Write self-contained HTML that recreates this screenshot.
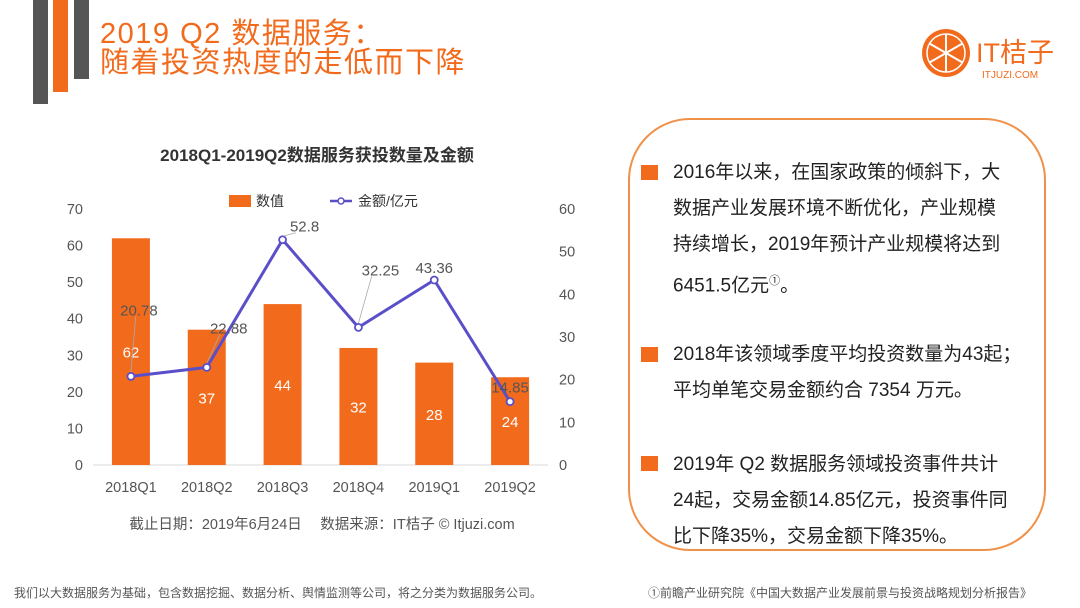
<!DOCTYPE html>
<html><head><meta charset="utf-8"><style>
body{margin:0;width:1080px;height:608px;background:#fff;position:relative;overflow:hidden;font-family:"Liberation Sans","Noto Sans CJK SC",sans-serif;}
.abs{position:absolute;}
.bar{position:absolute;top:0;}
.title{left:100px;top:20px;color:#f26b1d;font-size:29px;line-height:29px;letter-spacing:1.5px;}
.box{left:628px;top:118px;width:418px;height:433px;border:2px solid #f0914a;border-radius:62px;box-sizing:border-box;}
.p{position:absolute;left:673px;font-size:19px;line-height:36px;color:#222;white-space:nowrap;}
.bul{position:absolute;left:641px;width:17px;height:15px;background:#f26b1d;}
.foot{font-size:12px;color:#555;}
</style></head><body>
<div class="abs bar" style="left:33px;width:15px;height:104px;background:#555"></div>
<div class="abs bar" style="left:53px;width:15px;height:92px;background:#f26b1d"></div>
<div class="abs bar" style="left:74px;width:15px;height:79px;background:#555"></div>
<div class="abs title">2019 Q2 数据服务：<br>随着投资热度的走低而下降</div>

<svg class="abs" style="left:918px;top:28px" width="150" height="56">
<circle cx="28" cy="25" r="24" fill="#f26b1d"/>
<circle cx="28" cy="25" r="19" fill="none" stroke="#fff" stroke-width="1.5"/>
<g stroke="#fff" stroke-width="2"><line x1="28" y1="6" x2="28" y2="44"/><line x1="11.5" y1="15.5" x2="44.5" y2="34.5"/><line x1="11.5" y1="34.5" x2="44.5" y2="15.5"/></g>
<text x="58" y="34" font-size="27" fill="#f26b1d" font-family="Liberation Sans,Noto Sans CJK SC,sans-serif">IT桔子</text>
<text x="64" y="50" font-size="10" fill="#f26b1d" font-family="Liberation Sans,sans-serif">ITJUZI.COM</text>
</svg>

<svg id="chart" class="abs" style="left:0;top:0" width="620" height="560"></svg>

<div class="abs box"></div>
<div class="bul" style="top:165px"></div>
<div class="p" style="top:155px">2016年以来，在国家政策的倾斜下，大<br>数据产业发展环境不断优化，产业规模<br>持续增长，2019年预计产业规模将达到<br>6451.5亿元<sup style="font-size:11px">①</sup>。</div>
<div class="bul" style="top:347px"></div>
<div class="p" style="top:337px">2018年该领域季度平均投资数量为43起；<br>平均单笔交易金额约合 7354 万元。</div>
<div class="bul" style="top:456px"></div>
<div class="p" style="top:447px">2019年 Q2 数据服务领域投资事件共计<br>24起，交易金额14.85亿元，投资事件同<br>比下降35%，交易金额下降35%。</div>

<div class="abs foot" style="left:14px;top:584px">我们以大数据服务为基础，包含数据挖掘、数据分析、舆情监测等公司，将之分类为数据服务公司。</div>
<div class="abs foot" style="left:648px;top:584px">①前瞻产业研究院《中国大数据产业发展前景与投资战略规划分析报告》</div>

<script>
const categories=["2018Q1","2018Q2","2018Q3","2018Q4","2019Q1","2019Q2"];
const counts=[62,37,44,32,28,24];
const amounts=[20.78,22.88,52.8,32.25,43.36,14.85];
const leftTicks=[0,10,20,30,40,50,60,70];
const rightTicks=[0,10,20,30,40,50,60];
const NS="http://www.w3.org/2000/svg";
const svg=document.getElementById('chart');
const x0=93,x1=548,yB=465,yT=209;
const step=(x1-x0)/categories.length;
const xc=i=>x0+step*(i+0.5);
const yL=v=>yB-(v/70)*(yB-yT);
const yR=v=>yB-(v/60)*(yB-yT);
function mk(tag,at,txt){const e=document.createElementNS(NS,tag);for(const k in at)e.setAttribute(k,at[k]);if(txt!==undefined)e.textContent=txt;svg.appendChild(e);return e;}
const F='Liberation Sans,Noto Sans CJK SC,sans-serif';
let t=mk('text',{x:317,y:161,'text-anchor':'middle','font-size':17,'font-weight':'bold',fill:'#333','font-family':F},'2018Q1-2019Q2数据服务获投数量及金额');


let r=mk('rect',{x:229,y:195,width:22,height:12,fill:'#f26b1d'});


t=mk('text',{x:256,y:206,'font-size':14,fill:'#333','font-family':F},'数值');


let l=mk('line',{x1:330,y1:201,x2:352,y2:201,stroke:'#5a4fc8','stroke-width':2.5});


mk('circle',{cx:341,cy:201,r:3,fill:'#fff',stroke:'#5a4fc8','stroke-width':1.5});
t=mk('text',{x:358,y:206,'font-size':14,fill:'#333','font-family':F},'金额/亿元');


l=mk('line',{x1:x0,y1:yB,x2:x1,y2:yB,stroke:'#d9d9d9','stroke-width':1});


leftTicks.forEach(v=>{const e=mk('text',{x:83,y:yL(v)+5,'text-anchor':'end','font-size':14.5,fill:'#555','font-family':F},v);

});
rightTicks.forEach(v=>{const e=mk('text',{x:559,y:yR(v)+5,'font-size':14.5,fill:'#555','font-family':F},v);

});
categories.forEach((c,i)=>{const e=mk('text',{x:xc(i),y:492,'text-anchor':'middle','font-size':14.5,fill:'#555','font-family':F},c);

});
const bw=38;
counts.forEach((v,i)=>{const b=mk('rect',{x:xc(i)-bw/2,y:yL(v),width:bw,height:yB-yL(v),fill:'#f26b1d'});


const e=mk('text',{x:xc(i),y:(yL(v)+yB)/2+6,'text-anchor':'middle','font-size':15,fill:'#fff','font-family':F},v);

});
const pts=amounts.map((v,i)=>xc(i)+','+yR(v)).join(' ');
l=mk('polyline',{points:pts,fill:'none',stroke:'#5a4fc8','stroke-width':3,'stroke-linejoin':'round'});


const off=[[8,-66],[22,-39],[22,-13],[22,-57],[0,-12],[0,-14]];
amounts.forEach((v,i)=>{
if(i<4){const ld=mk('line',{x1:xc(i)+(i==2?2:0),y1:yR(v)-4,x2:xc(i)+off[i][0]*0.6,y2:yR(v)+off[i][1]+6,stroke:'#aaa','stroke-width':0.8});

}
const c=mk('circle',{cx:xc(i),cy:yR(v),r:3.5,fill:'#fff',stroke:'#5a4fc8','stroke-width':1.8});


const e=mk('text',{x:xc(i)+off[i][0],y:yR(v)+off[i][1]+5,'text-anchor':'middle','font-size':15,fill:'#555','font-family':F},v);

});
t=mk('text',{x:322,y:529,'text-anchor':'middle','font-size':14.5,fill:'#555','font-family':F},'截止日期：2019年6月24日　 数据来源：IT桔子 © Itjuzi.com');


</script>
</body></html>
